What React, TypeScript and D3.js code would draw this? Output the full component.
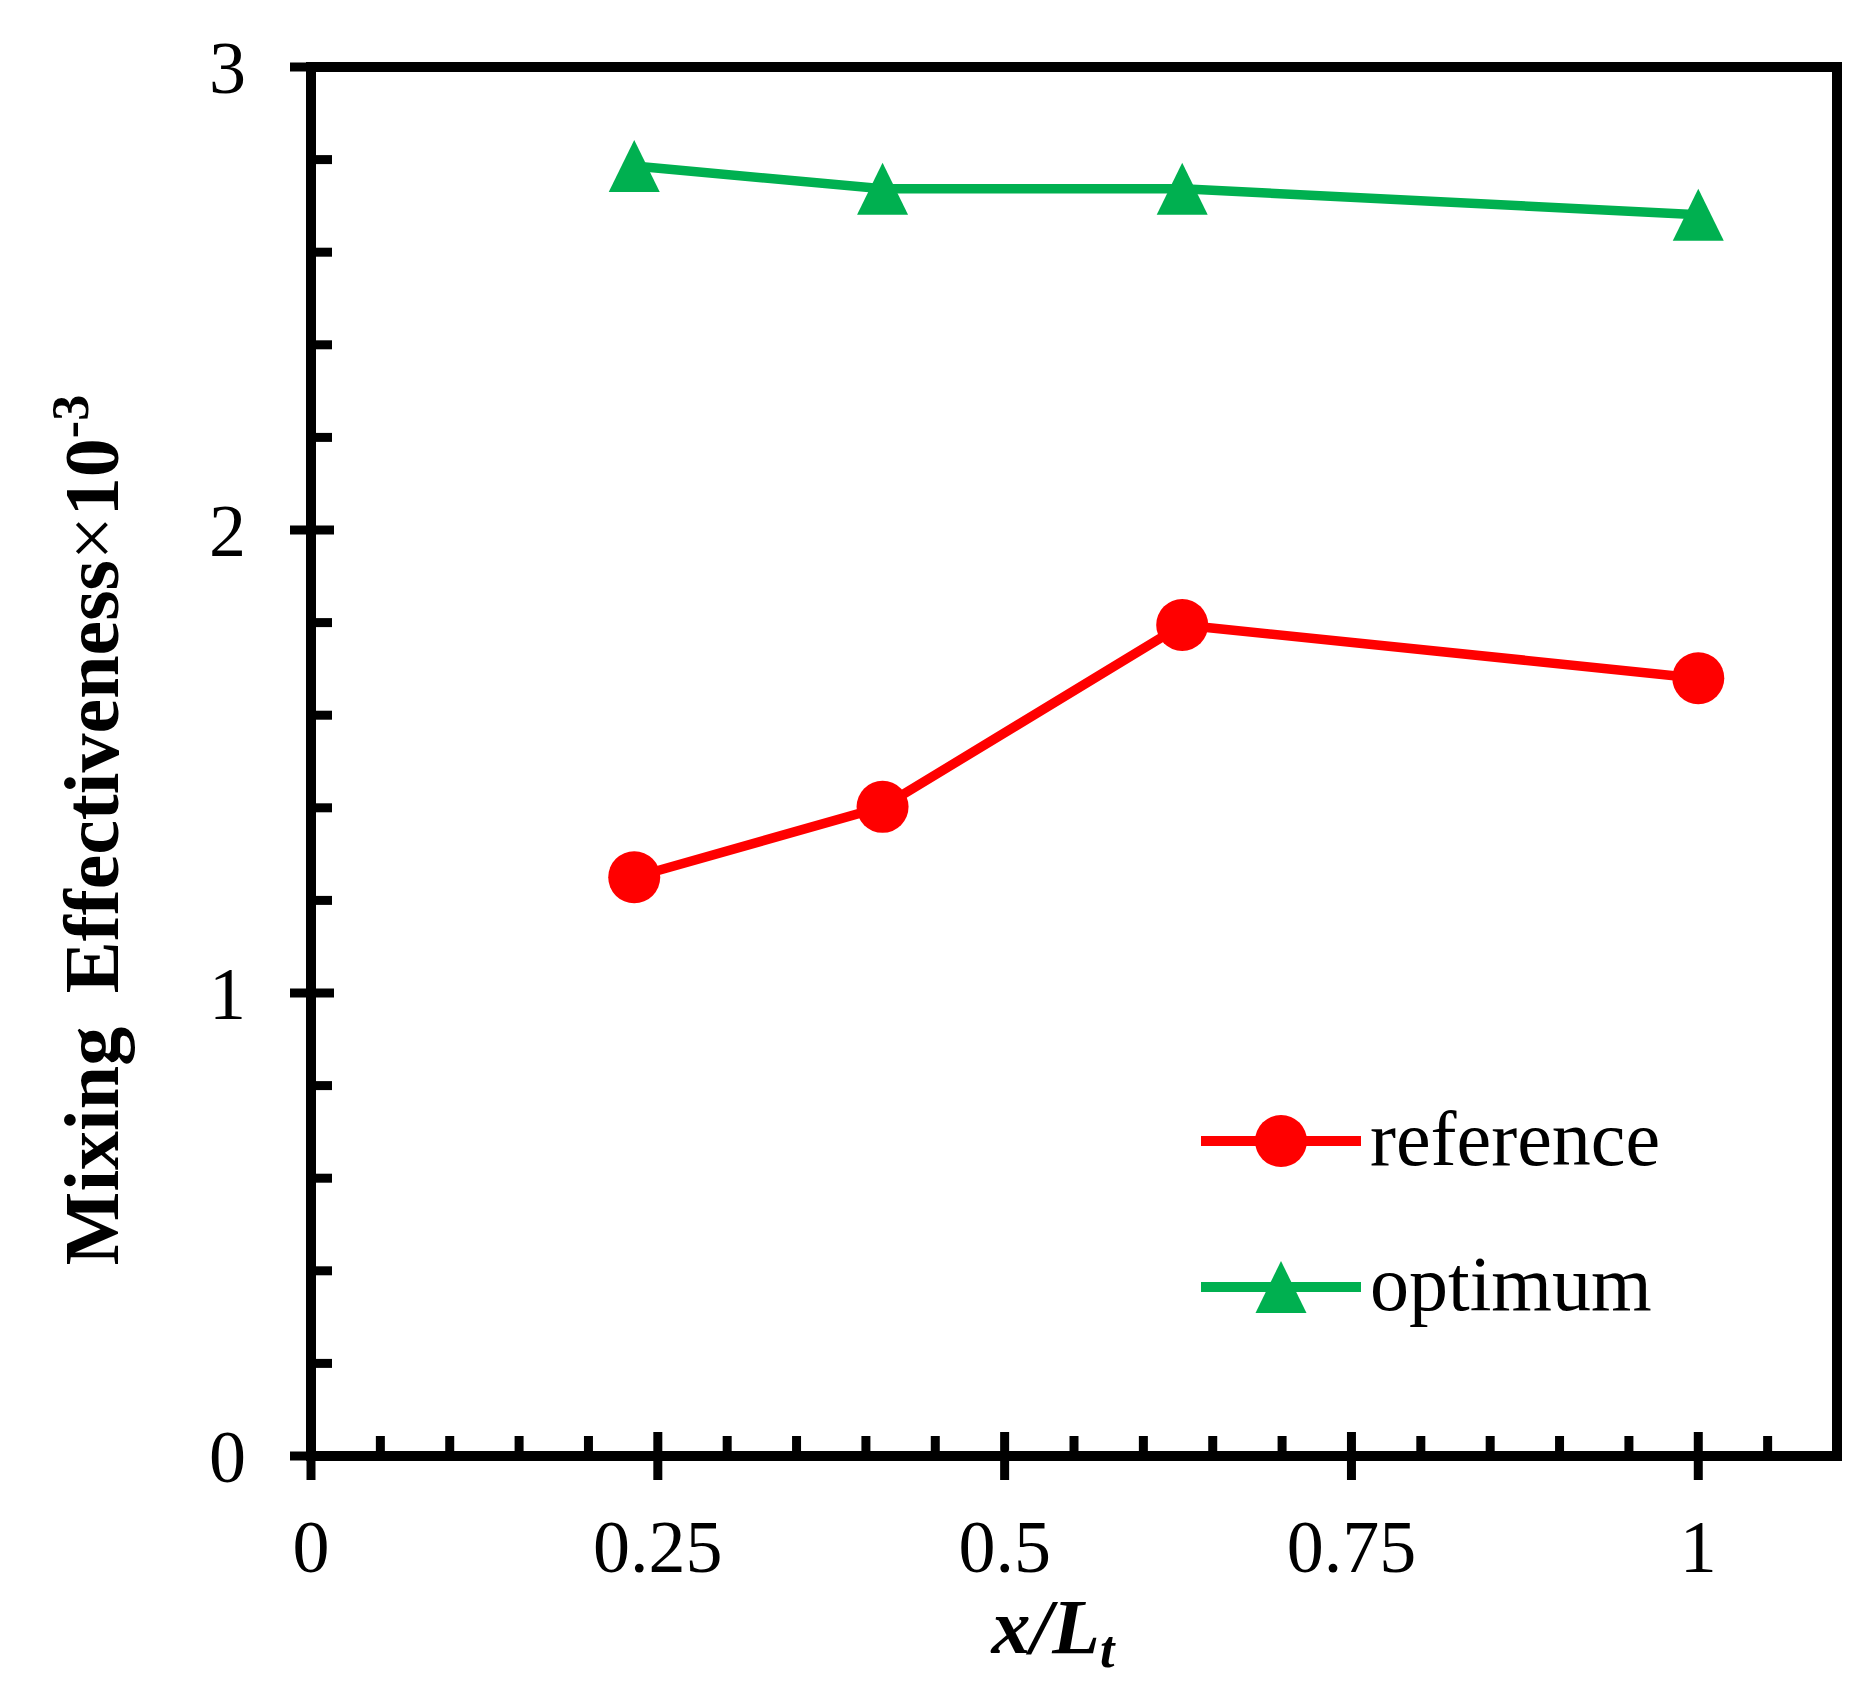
import * as d3 from 'd3'

const xPositions = [0.233, 0.412, 0.628, 1.0]
const referenceValues = [1.25, 1.402, 1.795, 1.68]
const optimumValues = [2.786, 2.737, 2.737, 2.681]
const xTicks = [0, 0.25, 0.5, 0.75, 1]
const xTickLabels = ['0', '0.25', '0.5', '0.75', '1']
const yTicks = [0, 1, 2, 3]
const xMinorTicks = d3.range(1, 22).map(i => i * 0.05).filter(v => Math.abs(v / 0.25 - Math.round(v / 0.25)) > 1e-6)
const yMinorTicks = d3.range(1, 15).map(i => i * 0.2).filter(v => Math.abs(v - Math.round(v)) > 1e-6)

const series = [
  { name: 'reference', values: referenceValues, color: '#ff0000', marker: 'circle' },
  { name: 'optimum', values: optimumValues, color: '#00b050', marker: 'triangle' },
]

const W = 1873
const H = 1689
const left = 311
const right = 1837
const top = 67
const bottom = 1456
const FONT = '"Liberation Serif", "Times New Roman", serif'

const TRI = 'M0,-26L25.5,26L-25.5,26Z'

function Marker({ kind, x, y, color }: { kind: string; x: number; y: number; color: string }) {
  if (kind === 'circle') return <circle cx={x} cy={y} r={26} fill={color} />
  return <path d={TRI} transform={`translate(${x},${y})`} fill={color} />
}

export default function App() {
  const x = d3.scaleLinear().domain([0, 1.1]).range([left, right])
  const y = d3.scaleLinear().domain([0, 3]).range([bottom, top])

  const line = d3.line<number>()
    .x((_, i) => x(xPositions[i]))
    .y(d => y(d))

  const legendY = [1141, 1287]

  return (
    <svg
      width={W}
      height={H}
      style={{ position: 'absolute', left: 0, top: 0, background: '#fff' }}
      fontFamily={FONT}
    >
      {/* frame */}
      <rect x={left} y={top} width={right - left} height={bottom - top} fill="none" stroke="#000" strokeWidth={10} />

      {/* x ticks */}
      {xMinorTicks.map(v => (
        <line key={'xm' + v} x1={x(v)} x2={x(v)} y1={bottom} y2={bottom - 20} stroke="#000" strokeWidth={9} />
      ))}
      {xTicks.map(v => (
        <line key={'x' + v} x1={x(v)} x2={x(v)} y1={bottom + 24} y2={bottom - 24} stroke="#000" strokeWidth={9} />
      ))}
      {xTicks.map((v, i) => (
        <text key={'xl' + v} x={x(v)} y={1572} textAnchor="middle" fontSize={74}>{xTickLabels[i]}</text>
      ))}

      {/* y ticks */}
      {yMinorTicks.map(v => (
        <line key={'ym' + v} x1={left} x2={left + 21} y1={y(v)} y2={y(v)} stroke="#000" strokeWidth={9} />
      ))}
      {yTicks.map(v => (
        <line key={'y' + v} x1={left - 21} x2={left + 23} y1={y(v)} y2={y(v)} stroke="#000" strokeWidth={9} />
      ))}
      {yTicks.map(v => (
        <text key={'yl' + v} x={246} y={y(v) + 26} textAnchor="end" fontSize={74}>{v}</text>
      ))}

      {/* axis titles */}
      <text x={1053} y={1653} textAnchor="middle" fontSize={78} fontWeight="bold" fontStyle="italic">
        x/L<tspan fontSize={52} dy={14}>t</tspan>
      </text>
      <text transform="translate(118,830) rotate(-90)" textAnchor="middle" fontSize={78} fontWeight="bold">
        Mixing<tspan dx={14}> Effectiveness</tspan>
        <tspan fontWeight="normal">×</tspan>10<tspan fontSize={52} dy={-30}>-3</tspan>
      </text>

      {/* series */}
      {series.map(s => (
        <g key={s.name}>
          <path d={line(s.values) ?? ''} fill="none" stroke={s.color} strokeWidth={9.5} />
          {s.values.map((v, i) => (
            <Marker key={i} kind={s.marker} x={x(xPositions[i])} y={y(v)} color={s.color} />
          ))}
        </g>
      ))}

      {/* legend */}
      {series.map((s, i) => (
        <g key={'lg' + s.name}>
          <line x1={1201} x2={1361} y1={legendY[i]} y2={legendY[i]} stroke={s.color} strokeWidth={10} />
          <Marker kind={s.marker} x={1281} y={legendY[i]} color={s.color} />
          <text x={1370} y={legendY[i] + (i === 0 ? 24 : 23)} fontSize={78}>{s.name}</text>
        </g>
      ))}
    </svg>
  )
}
